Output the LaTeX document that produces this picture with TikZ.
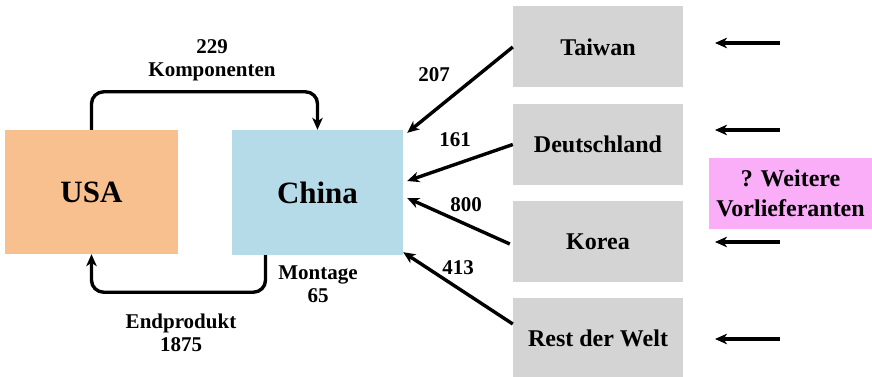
\documentclass[tikz,border=0pt]{standalone}
\usepackage{fontspec}
\setmainfont{Liberation Serif}
\usetikzlibrary{arrows.meta,positioning}
\definecolor{usaorange}{HTML}{F9C08F}
\definecolor{chinablue}{HTML}{B5DAE8}
\definecolor{suppgray}{HTML}{D4D4D4}
\definecolor{questpink}{HTML}{FAAEF8}

\begin{document}
\begin{tikzpicture}[x=1pt,y=-1pt,
    flow/.style={line width=3.4pt,-{Stealth[length=12pt,width=10.5pt,inset=3.5pt]}},
    country/.style={inner sep=0pt,font=\fontsize{31}{36}\selectfont\bfseries},
    supplier/.style={fill=suppgray,inner sep=0pt,minimum width=170pt,
                     minimum height=81pt,font=\fontsize{24}{28}\selectfont\bfseries},
    amount/.style={align=center,inner sep=0pt,
                   font=\fontsize{21}{23}\selectfont\bfseries}]

  \useasboundingbox (0,0) rectangle (872,377);

  \node (us) [country,fill=usaorange,minimum width=173pt,minimum height=124pt]
        at (91.5,192) {USA};
  \node (cn) [country,fill=chinablue,minimum width=171pt,minimum height=125pt]
        at (317.5,192.5) {China};

  \node (tw) [supplier] at (598,47) {Taiwan};
  \node (de) [supplier] at (598,144.5) {Deutschland};
  \node (kr) [supplier] at (598,241.5) {Korea};
  \node (rw) [supplier,minimum height=80pt] at (598,338) {Rest der Welt};

  \node (more) [fill=questpink,inner sep=0pt,minimum width=163pt,minimum height=71pt,
                align=center,font=\fontsize{24}{30}\selectfont\bfseries]
        at (790.5,193.5) {? Weitere\\Vorlieferanten};

  % USA -> China and back
  \draw [flow,rounded corners=12pt] (us.north) -- ++(0,-38) -| (cn.north);
  \node (komp) [amount] at (212,60) {229\\Komponenten};

  \draw [flow,rounded corners=12pt] ([xshift=-52pt]cn.south) -- ++(0,37) -| (us.south);
  \node (mont) [amount] at (318,284) {Montage\\65};
  \node (endp) [amount] at (181,333) {Endprodukt\\1875};

  % suppliers -> China
  \draw [flow] (tw.west) -- ([xshift=4pt,yshift=-3pt]cn.north east);
  \node (n207) [amount] at (434,75) {207};

  \draw [flow] (de.west) -- ([xshift=4pt,yshift=11.5pt]cn.east);
  \node (n161) [amount] at (455,140) {161};

  \draw [flow] ([xshift=-3pt,yshift=-2.5pt]kr.west) -- ([xshift=4pt,yshift=-5.5pt]cn.east);
  \node (n800) [amount] at (466,205) {800};

  \draw [flow] ([yshift=14pt]rw.west) -- ([yshift=3pt]cn.south east);
  \node (n413) [amount] at (458,268) {413};

  % open arrows on the right
  \foreach \name/\ypos in {a/43,b/130,c/242,d/339} {
    \coordinate (from\name) at (780,\ypos);
    \coordinate (to\name) at (715,\ypos);
    \draw [flow] (from\name) -- (to\name);
  }

\end{tikzpicture}
\end{document}
